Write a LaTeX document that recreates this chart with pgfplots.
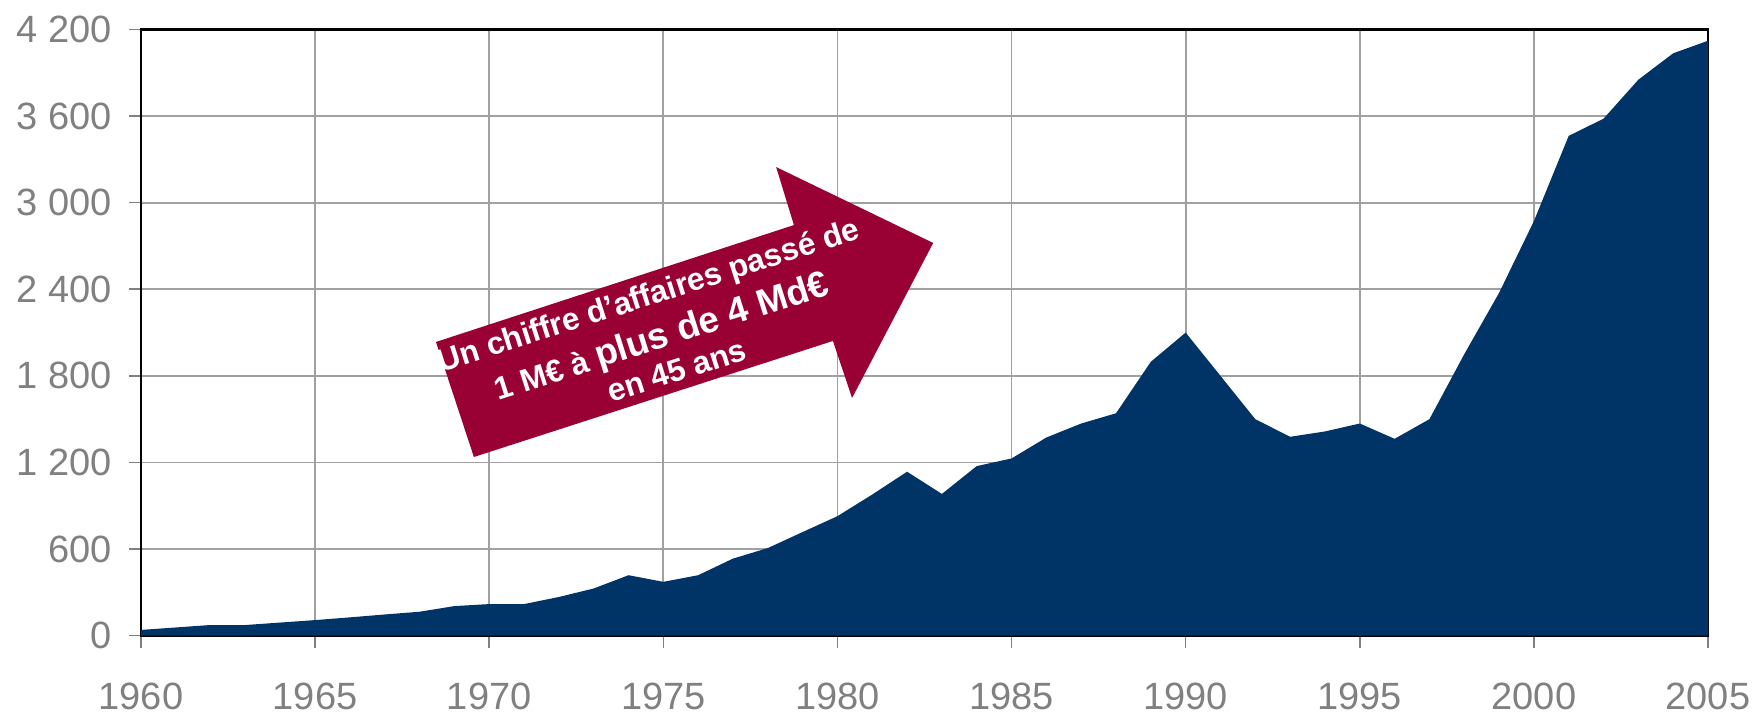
\documentclass[border=0pt]{standalone}
\usepackage{pgfplots}
\pgfplotsset{compat=1.18}
\usepackage{fontspec}
\setmainfont{Liberation Sans}
\definecolor{navyfill}{RGB}{0,51,102}
\definecolor{arrowred}{RGB}{153,0,51}
\definecolor{labgray}{RGB}{128,128,128}
\definecolor{gridgray}{RGB}{160,160,160}
\newcommand{\ts}{\ }
\pgfplotstableread{
year value
1960 40
1961 57
1962 74
1963 74
1964 91
1965 108
1966 127
1967 147
1968 166
1969 205
1970 219
1971 219
1972 268
1973 327
1974 419
1975 373
1976 419
1977 534
1978 607
1979 718
1980 828
1981 978
1982 1136
1983 982
1984 1175
1985 1228
1986 1373
1987 1470
1988 1541
1989 1898
1990 2100
1991 1800
1992 1500
1993 1378
1994 1415
1995 1470
1996 1364
1997 1500
1998 1950
1999 2375
2000 2872
2001 3463
2002 3582
2003 3852
2004 4035
2005 4122
}\ca
\begin{document}
\begin{tikzpicture}
\begin{axis}[
 at={(0,0)}, anchor=south west,
 scale only axis, width=391.75pt, height=151.55pt,
 xmin=1960, xmax=2005, ymin=0, ymax=4200,
 xtick={1960,1965,...,2005},
 xticklabels={1960,1965,1970,1975,1980,1985,1990,1995,2000,2005},
 ytick={0,600,...,4200},
 yticklabels={0,600,1\ts200,1\ts800,2\ts400,3\ts000,3\ts600,4\ts200},
 xtick pos=bottom, ytick pos=left,
 grid=major, major grid style={draw=gridgray, line width=0.45pt},
 axis line style={black, line width=0.7pt},
 tick align=outside, major tick length=3pt,
 tick style={draw=labgray, line width=0.4pt},
 tick label style={font=\fontsize{9.5}{11}\selectfont, text=labgray},
 xticklabel style={yshift=-5.4pt},
 yticklabel style={xshift=-0.85pt},
]
\addplot[fill=navyfill, draw=none] table[x=year, y=value] {\ca} \closedcycle;
\fill[arrowred] (axis cs:1968.47,2035) -- (axis cs:1978.75,2845) -- (axis cs:1978.24,3247) -- (axis cs:1982.75,2721) -- (axis cs:1980.42,1647) -- (axis cs:1979.87,2042) -- (axis cs:1969.56,1238) -- cycle;
\node[rotate=17.7, anchor=base, text=white, font=\bfseries\fontsize{7.9}{9}\selectfont, inner sep=0pt] at (axis cs:1974.66,2290) {Un chiffre d’affaires passé de};
\node[rotate=17.7, anchor=base, text=white, font=\bfseries\fontsize{7.9}{9}\selectfont, inner sep=0pt] at (axis cs:1975.05,2000) {1 M€ à {\fontsize{9.2}{11}\selectfont plus de 4 Md€}};
\node[rotate=17.7, anchor=base, text=white, font=\bfseries\fontsize{7.9}{9}\selectfont, inner sep=0pt] at (axis cs:1975.48,1765) {en 45 ans};
\end{axis}
\pgfresetboundingbox
\useasboundingbox (-35.25pt,-19.325pt) rectangle (403pt,158.925pt);
\end{tikzpicture}
\end{document}
